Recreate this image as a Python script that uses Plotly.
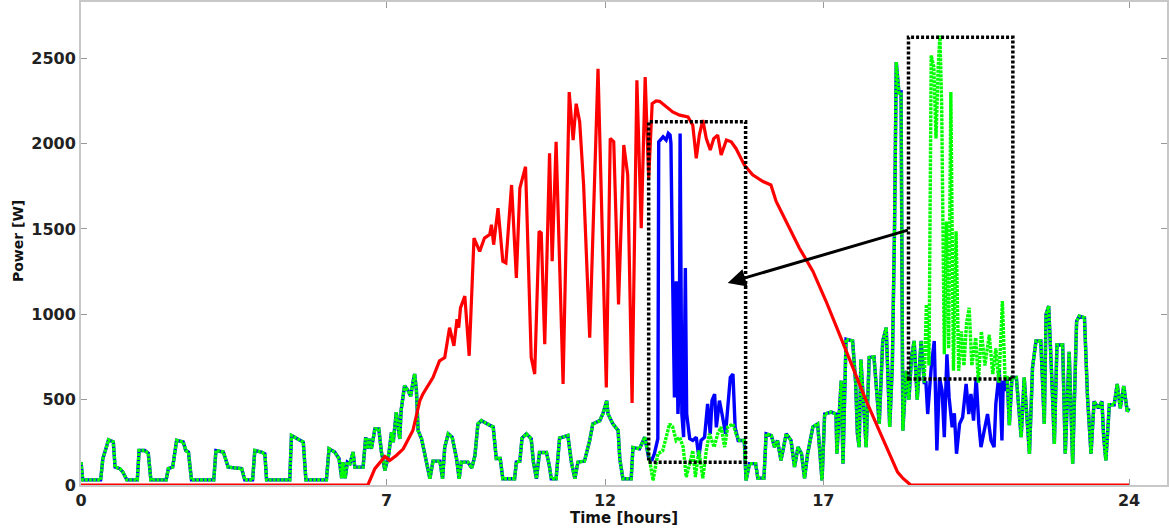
import plotly.graph_objects as go

# ---------------- data ----------------
pv_t = [0.0, 6.57, 6.73, 6.96, 7.07, 7.22, 7.38, 7.6, 7.76, 7.83, 8.06, 8.21, 8.33, 8.44, 8.54, 8.61, 8.65,
        8.69, 8.79, 8.89, 9.0, 9.13, 9.24, 9.36, 9.4, 9.45, 9.55, 9.66, 9.73, 9.86, 9.97, 10.05, 10.18,
        10.31, 10.39, 10.49, 10.54, 10.62, 10.73, 10.79, 10.88, 11.04, 11.18, 11.27, 11.34, 11.42, 11.51,
        11.65, 11.84, 12.03, 12.12, 12.2, 12.31, 12.43, 12.52, 12.62, 12.73, 12.83, 12.92, 13.0, 13.08,
        13.17, 13.25, 13.4, 13.55, 13.71, 13.9, 14.01, 14.09, 14.16, 14.24, 14.32, 14.41, 14.49, 14.58,
        14.66, 14.78, 14.89, 15.0, 15.19, 15.38, 15.62, 15.8, 15.92, 16.14, 16.45, 16.76, 17.06, 17.37,
        17.67, 17.98, 18.28, 18.59, 18.7, 18.82, 19.0, 24.0]
pv_v = [0, 0, 96, 167, 144, 173, 212, 319, 494, 533, 630, 727, 747, 922, 815, 971, 922,
        1038, 1107, 757, 1447, 1369, 1447, 1467, 1525, 1408, 1622, 1311, 1301, 1758, 1213, 1739, 1865,
        747, 650, 1486, 1476, 825, 1943, 1311, 2011, 592, 2302, 2021, 2234, 2128, 1758,
        863, 2439, 572, 2030, 2011, 1058, 1992, 1817, 480, 2371, 1505, 2390, 1797, 2234,
        2250, 2248, 2215, 2186, 2167, 2157, 2108, 1914, 2050, 2138, 2030, 1963, 2030, 2050,
        1933, 2021, 2011, 1972, 1875, 1817, 1778, 1758, 1661, 1544, 1389, 1253, 1078, 883,
        688, 494, 319, 144, 76, 40, 0, 0]

demand_t = [0.0, 0.04, 0.45, 0.5, 0.57, 0.63, 0.74, 0.78, 0.89, 0.96, 1.05, 1.29, 1.33, 1.46, 1.54, 1.6,
            1.95, 2.0, 2.1, 2.19, 2.34, 2.4, 2.46, 2.53, 3.04, 3.09, 3.26, 3.37, 3.68, 3.75, 3.93, 3.98,
            4.13, 4.21, 4.25, 4.78, 4.82, 4.95, 5.09, 5.15, 5.62, 5.68, 5.81, 5.91, 5.97, 6.0, 6.05, 6.1,
            6.16, 6.23, 6.27, 6.46, 6.52, 6.56, 6.6, 6.65, 6.73, 6.82, 6.88, 6.96, 7.05, 7.11, 7.15, 7.22,
            7.3, 7.33, 7.41, 7.49, 7.55, 7.6, 7.64, 7.68, 7.72, 7.8, 7.91, 7.99, 8.06, 8.22, 8.28, 8.33,
            8.41, 8.5, 8.6, 8.66, 8.71, 8.86, 8.95, 9.02, 9.09, 9.17, 9.36, 9.44, 9.51, 9.6, 9.66, 9.93,
            9.97, 10.05, 10.1, 10.2, 10.31, 10.36, 10.43, 10.5, 10.66, 10.72, 10.77, 10.88, 10.96, 11.15,
            11.23, 11.31, 11.38, 11.53, 11.65, 11.72, 11.88, 11.95, 12.04, 12.07, 12.18, 12.3, 12.34,
            12.41, 12.6, 12.64, 12.79, 12.91, 13.02, 13.1, 13.21, 13.32, 13.48, 13.55, 13.63, 13.71,
            13.79, 13.86, 13.94, 14.01, 14.07, 14.15, 14.24, 14.32, 14.39, 14.5, 14.58, 14.66, 14.74,
            14.81, 14.93, 15.0, 15.08, 15.19, 15.23, 15.31, 15.45, 15.5, 15.64, 15.69, 15.81, 15.88,
            15.95, 16.03, 16.15, 16.26, 16.34, 16.42, 16.5, 16.57, 16.64, 16.76, 16.87, 16.97, 17.03,
            17.18, 17.29, 17.31, 17.36, 17.41, 17.45, 17.52, 17.67, 17.74, 17.78, 17.82, 17.86, 17.92,
            17.98, 18.05, 18.16, 18.28, 18.36, 18.44, 18.5, 18.52, 18.58, 18.63, 18.67, 18.73, 18.78,
            18.82, 18.9, 18.96, 19.02, 19.08, 19.15, 19.24, 19.31, 19.36, 19.42, 19.47, 19.53, 19.58,
            19.63, 19.67, 19.71, 19.77, 19.82, 19.87, 19.92, 19.98, 20.04, 20.1, 20.16, 20.22, 20.28,
            20.34, 20.4, 20.49, 20.55, 20.62, 20.7, 20.8, 20.88, 20.95, 21.02, 21.1, 21.16, 21.21,
            21.26, 21.32, 21.42, 21.53, 21.6, 21.72, 21.79, 21.87, 21.98, 22.06, 22.1, 22.16, 22.22,
            22.29, 22.35, 22.48, 22.54, 22.63, 22.71, 22.8, 22.86, 22.98, 23.05, 23.13, 23.2, 23.3,
            23.38, 23.42, 23.47, 23.55, 23.66, 23.73, 23.8, 23.88, 23.96, 24.0]
demand_v = [134, 30, 30, 154, 212, 265, 252, 105, 96, 75, 30, 30, 202, 202, 187, 30,
            30, 96, 105, 261, 252, 202, 193, 30, 30, 202, 193, 105, 96, 30, 30, 202,
            193, 183, 30, 30, 290, 271, 252, 30, 30, 212, 193, 154, 40, 134, 40, 134,
            125, 193, 105, 105, 280, 212, 271, 212, 329, 329, 193, 86, 183, 309, 250, 426,
            270, 436, 582, 553, 520, 600, 650, 560, 319, 270, 134, 37, 140, 140, 37, 222,
            300, 280, 155, 37, 134, 134, 100, 170, 358, 377, 350, 340, 155, 155, 37, 37,
            134, 140, 275, 300, 271, 134, 37, 190, 190, 120, 37, 37, 275, 290,
            134, 37, 134, 140, 261, 358, 377, 416, 494, 416, 358, 320, 150,
            37, 37, 220, 212, 280, 150, 27, 183, 200, 358, 340, 261, 280,
            222, 47, 125, 202, 47, 202, 40, 202, 300, 222, 300, 340, 222,
            340, 358, 300, 261, 261, 27, 125, 125, 40, 40, 300, 290, 222,
            261, 144, 300, 261, 105, 222, 183, 40, 183, 340, 358, 27, 416,
            427, 416, 183, 400, 611, 125, 854, 844, 600, 300, 222, 735, 450,
            222, 747, 750, 358, 844, 922, 500, 340, 700, 1500, 2478, 2300, 2302,
            319, 669, 500, 750, 844, 500, 844, 600, 1058, 700, 2517, 2450, 2030,
            2450, 2633, 2225, 766, 1544, 800, 2302, 669, 1486, 669, 900, 700, 950,
            1038, 700, 863, 600, 900, 700, 880, 650, 800, 600, 1078, 630, 630,
            350, 630, 630, 280, 630, 183, 688, 844, 844, 358, 1000, 1048, 700,
            241, 820, 820, 183, 780, 125, 960, 990, 980, 513, 183, 490, 450,
            490, 280, 144, 470, 470, 592, 450, 580, 430, 450]

# optimised (shifted) demand inside the two rescheduling windows
shift_a_t = [13.0, 13.08, 13.13, 13.21, 13.23, 13.33, 13.4, 13.45, 13.49, 13.51, 13.55, 13.59, 13.63,
             13.67, 13.7, 13.72, 13.76, 13.8, 13.84, 13.87, 13.94, 14.01, 14.09, 14.15, 14.2, 14.28,
             14.35, 14.41, 14.45, 14.51, 14.55, 14.62, 14.68, 14.76, 14.8, 14.87, 14.93, 14.98, 15.05]
shift_a_v = [160, 150, 183, 271, 2011, 2040, 2021, 2060, 2050, 2001, 1194, 513, 1194,
             416, 600, 2060, 416, 280, 1272, 416, 271, 261, 280, 163, 261, 280,
             475, 300, 494, 533, 338, 494, 416, 300, 420, 630, 650, 338, 261]
shift_b_t = [19.35, 19.39, 19.47, 19.54, 19.6, 19.66, 19.72, 19.77, 19.83, 19.88, 19.95, 20.0, 20.05,
             20.12, 20.19, 20.27, 20.33, 20.38, 20.44, 20.5, 20.56, 20.61, 20.69, 20.76, 20.84, 20.91,
             20.95, 21.03, 21.09, 21.12, 21.17, 21.2]
shift_b_v = [600, 416, 688, 844, 202, 630, 552, 280, 766, 513, 338, 420, 183,
             358, 397, 592, 416, 533, 377, 630, 358, 222, 338, 416, 261, 222,
             475, 669, 261, 611, 552, 630]

# highlight boxes [t0, t1] x [v0, v1] and arrow
box_t = [[13.0, 15.22], [18.95, 21.34]]
box_v = [[134, 2128], [621, 2624]]
arrow_from = [18.97, 1496]
arrow_to = [14.81, 1184]

x_ticks = [0, 7, 12, 17, 24]
y_ticks = [0, 500, 1000, 1500, 2000, 2500]

# ---------------- build optimised series ----------------
windows = [(shift_a_t, shift_a_v), (shift_b_t, shift_b_v)]
pts = [(t, v) for t, v in zip(demand_t, demand_v)
       if not any(wt[0] <= t <= wt[-1] for wt, _ in windows)]
for wt, wv in windows:
    pts += list(zip(wt, wv))
pts.sort()
opt_t = [p[0] for p in pts]
opt_v = [p[1] for p in pts]

fig = go.Figure()
fig.add_trace(go.Scatter(x=opt_t, y=opt_v, mode="lines",
                         line=dict(color="#0000ff", width=3.4), showlegend=False))
fig.add_trace(go.Scatter(x=demand_t, y=demand_v, mode="lines",
                         line=dict(color="#00ff00", width=3.4, dash="3px,1px"), showlegend=False))
fig.add_trace(go.Scatter(x=pv_t, y=pv_v, mode="lines",
                         line=dict(color="#ff0000", width=3.2), showlegend=False))

for (t0, t1), (v0, v1) in zip(box_t, box_v):
    fig.add_shape(type="rect", x0=t0, x1=t1, y0=v0, y1=v1, xref="x", yref="y",
                  line=dict(color="black", width=3.5, dash="3px,2px"))

fig.add_annotation(x=arrow_to[0], y=arrow_to[1], ax=arrow_from[0], ay=arrow_from[1],
                   xref="x", yref="y", axref="x", ayref="y", text="", showarrow=True,
                   arrowhead=2, arrowsize=1.2, arrowwidth=3, arrowcolor="black")

fig.add_annotation(text="Time [hours]", x=0.5, y=-0.069, xref="paper", yref="paper",
                   showarrow=False, xanchor="center", yanchor="middle",
                   font=dict(size=15, color="#111", family="DejaVu Sans", weight="bold"))
fig.add_annotation(text="Power [W]", x=-0.058, y=0.505, xref="paper", yref="paper",
                   showarrow=False, xanchor="center", yanchor="middle", textangle=-90,
                   font=dict(size=14, color="#111", family="DejaVu Sans", weight="bold"))

axis_common = dict(showgrid=False, zeroline=False, showline=True, linecolor="#c8c8c8",
                   linewidth=2, ticks="inside", ticklen=6, tickcolor="#999", tickwidth=1,
                   mirror="ticks",
                   tickfont=dict(size=16, color="#222", family="DejaVu Sans", weight="bold"))
fig.update_xaxes(range=[0, 24.87], tickvals=x_ticks, ticktext=[str(v) for v in x_ticks], **axis_common)
fig.update_yaxes(range=[0, 2830], tickvals=y_ticks, ticktext=[str(v) for v in y_ticks], **axis_common)

fig.update_layout(width=1169, height=531, margin=dict(l=81, r=1, t=0, b=46),
                  plot_bgcolor="white", paper_bgcolor="white")

fig.write_html("out.html", config={"displayModeBar": False},
               post_script="document.body.style.margin='0';document.body.style.overflow='hidden';")
